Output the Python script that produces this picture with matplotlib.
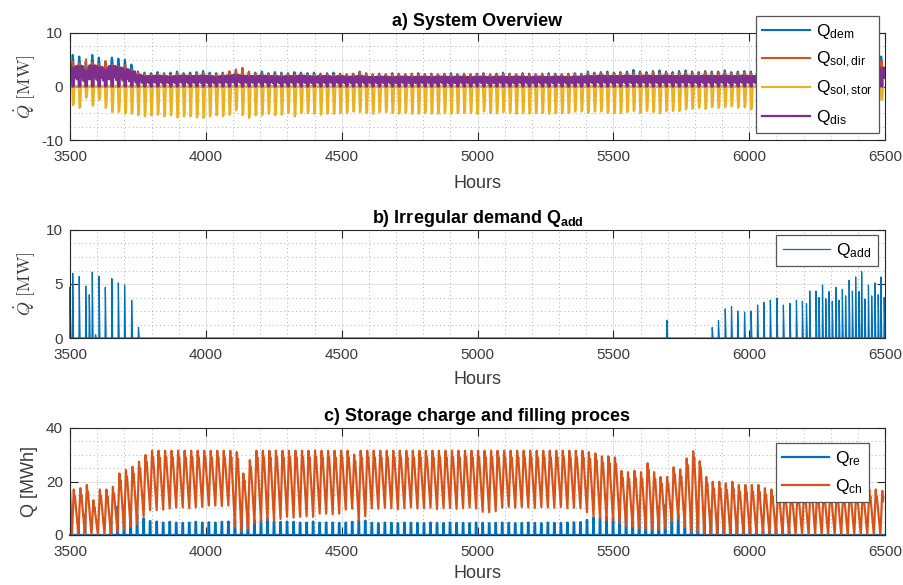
import matplotlib
matplotlib.use("Agg")
import matplotlib.pyplot as plt
from matplotlib.ticker import MultipleLocator

plt.rcParams['font.family'] = ['Liberation Sans', 'DejaVu Sans']
plt.rcParams['mathtext.fontset'] = 'custom'
plt.rcParams['mathtext.rm'] = 'Liberation Sans'
plt.rcParams['mathtext.it'] = 'Liberation Sans:italic'
plt.rcParams['mathtext.bf'] = 'Liberation Sans:bold'
plt.rcParams['axes.unicode_minus'] = False

# ---------------- data ----------------
HOUR_START = 3500
HOUR_END = 6500
N_DAYS = 125

# a) daily peak of demand [MW]
dem_peak = [5.9, 5.6, 4.7, 5.9, 5.4, 4.7, 5.4, 5.2, 5.0, 4.1, 2.8,
            2.6, 2.5, 2.7, 2.5, 2.6, 2.8, 2.5, 2.6, 2.7, 2.9,
            2.6, 2.5, 2.6, 2.8, 3.0, 2.9, 2.7, 2.6, 2.8, 2.5,
            2.7, 2.6, 2.5, 2.7, 2.6, 2.5, 2.6, 2.4, 2.5, 2.6, 2.4,
            2.3, 2.4, 2.8, 2.5, 2.3, 2.4, 2.3, 2.5, 2.4, 2.3,
            2.4, 2.5, 2.3, 2.4, 2.3, 2.4, 2.5, 2.3, 2.4, 2.3,
            2.4, 2.5, 2.3, 2.4, 2.6, 2.4, 2.3, 2.5, 2.4, 2.3,
            2.4, 2.5, 2.4, 2.3, 2.4, 2.5, 2.4, 2.8, 2.6, 2.7, 2.8, 2.6,
            2.7, 2.8, 3.1, 2.8, 2.7, 2.9, 3.0, 2.8, 2.7, 2.9, 3.0,
            2.8, 2.7, 2.9, 2.8, 2.8, 3.0, 2.7, 2.8, 2.9, 2.8, 3.0,
            2.8, 2.7, 2.8, 2.9, 2.8, 2.7, 2.8, 2.9, 2.8, 2.7,
            2.8, 2.9, 2.8, 2.7, 2.8, 2.9, 2.8, 2.7, 5.6]
# a) daily peak of direct solar supply [MW]
sol_dir_peak = [4.7, 4.4, 5.1, 4.4, 4.2, 4.7, 4.0, 3.6, 4.0, 3.1, 2.5,
                2.3, 2.2, 2.4, 2.3, 2.2, 2.4, 2.3, 2.2, 2.4, 2.5, 2.3, 2.2, 2.4,
                2.8, 3.2, 3.5, 2.8,
                2.4, 2.3, 2.4, 2.2, 2.3, 2.4, 2.2, 2.3, 2.2, 2.3, 2.2, 2.3, 2.2, 2.2,
                2.2, 2.3, 2.7, 2.3, 2.2, 2.2, 2.3, 2.2, 2.2, 2.3,
                2.2, 2.2, 2.3, 2.2, 2.2, 2.3, 2.2, 2.2, 2.3, 2.2,
                2.2, 2.3, 2.2, 2.2, 2.4, 2.2, 2.2, 2.3, 2.2, 2.2,
                2.3, 2.2, 2.2, 2.3, 2.2, 2.3, 2.2, 2.5, 2.4, 2.5, 2.5, 2.4,
                2.5, 2.5, 2.6, 2.5, 2.4, 2.6, 2.6, 2.5, 2.4, 2.5, 2.6,
                2.5, 2.4, 2.6, 2.5, 2.5, 2.6, 2.4, 2.5, 2.6, 2.5, 2.6,
                2.5, 2.4, 2.5, 2.6, 2.5, 2.4, 2.5, 2.6, 2.5, 2.4,
                2.5, 2.6, 2.5, 2.4, 2.5, 2.6, 2.5, 2.4, 4.8]
# a) daily depth of solar flow into the storage [MW, shown negative]
sol_stor_depth = [3.5, 4.0, 2.1, 3.6, 2.5, 4.0, 4.8, 4.8, 5.1, 5.1,
                  5.4, 5.6, 5.4, 5.3, 5.6, 5.4, 5.8, 5.6, 5.6, 5.8,
                  5.9, 5.6, 5.4, 5.6, 5.3, 4.5, 5.4, 5.9, 5.4, 5.4,
                  5.1, 5.4, 5.3, 5.0, 5.6, 5.0, 5.0, 5.1, 5.3, 5.1, 5.1, 5.0,
                  5.0, 4.7, 4.8, 5.0, 5.1, 4.8, 4.8, 5.0, 5.1, 5.0,
                  5.1, 5.1, 5.0, 5.1, 5.1, 5.0, 5.1, 5.0, 5.0, 5.0,
                  5.1, 4.7, 5.0, 5.0, 4.8, 5.0, 5.1, 5.0, 5.1, 5.0,
                  5.0, 5.1, 5.0, 5.0, 5.0, 4.7, 4.7, 5.0, 4.7, 4.7, 5.0, 5.0,
                  5.0, 4.8, 4.6, 5.0, 4.6, 4.8, 5.0, 4.6, 4.6, 4.6, 4.3,
                  4.2, 4.0, 4.2, 3.9, 4.0, 3.9, 3.7, 4.0, 3.9, 4.3, 4.0,
                  3.5, 3.6, 3.4, 3.5, 3.6, 3.5, 3.4, 3.5, 3.6, 3.5,
                  3.4, 3.5, 3.6, 3.5, 3.4, 3.5, 3.6, 3.5, 2.5]
# a) storage discharge level [MW]
dis_level = [3.5, 3.8, 3.0, 3.9, 3.6, 3.2, 3.8, 3.5, 3.2, 2.8, 2.1,
             1.9, 1.9, 2.0, 1.9, 1.8, 1.9, 2.0, 1.9, 1.9, 2.0,
             1.9, 1.8, 1.9, 2.0, 2.1, 2.0, 1.9, 1.9, 2.0, 1.9,
             1.9, 1.8, 1.9, 1.9, 2.0, 1.9, 1.8, 1.9, 1.9, 1.8, 1.9,
             1.8, 1.8, 1.9, 1.8, 1.7, 1.8, 1.8, 1.7, 1.8, 1.8,
             1.7, 1.8, 1.8, 1.7, 1.8, 1.8, 1.7, 1.8, 1.8, 1.7,
             1.8, 1.8, 1.7, 1.8, 1.8, 1.7, 1.8, 1.8, 1.7, 1.8,
             1.8, 1.7, 1.8, 1.8, 1.7, 1.8, 1.8, 1.9, 1.9, 2.0, 1.9, 1.9,
             1.9, 2.0, 1.9, 1.9, 2.0, 1.9, 1.9, 2.0, 1.9, 1.9, 2.0,
             1.9, 1.9, 2.0, 1.9, 1.9, 2.0, 1.9, 1.9, 2.0, 1.9, 1.9,
             1.9, 2.0, 1.9, 1.9, 2.0, 1.9, 1.9, 2.0, 1.9, 1.9,
             2.0, 1.9, 1.9, 2.0, 1.9, 1.9, 2.0, 1.9, 3.5]
# a) hourly shape of one day of discharge (fraction of the daily level)
dis_day_hours = [0, 2, 4, 7, 9, 14, 16, 19, 21, 23]
dis_day_frac = [1.0, 0.35, 1.0, 1.0, 0.0, 0.0, 1.0, 1.0, 0.45, 1.0]

# b) irregular demand spikes
add_hours = [3500, 3510, 3534, 3558, 3571, 3582, 3594, 3607, 3630, 3654, 3678, 3701, 3727, 3752,
             5697,
             5864, 5887, 5912, 5935, 5958, 5983, 6007, 6031, 6054, 6078,
             6102, 6126, 6150, 6174, 6196, 6211, 6223, 6246, 6257, 6270,
             6282, 6294, 6306, 6319, 6331, 6343, 6355, 6368, 6380, 6392,
             6404, 6414, 6426, 6439, 6451, 6463, 6475, 6485, 6497]
add_values = [4.7, 6.0, 5.7, 4.8, 4.0, 6.1, 0.3, 5.7, 4.7, 5.5, 5.1, 4.9, 3.5, 1.0,
              1.65,
              0.97, 1.6, 2.7, 2.9, 2.5, 2.4, 2.5, 3.05, 3.3, 3.5,
              3.7, 3.05, 3.2, 3.5, 3.4, 3.2, 4.35, 4.35, 3.75, 4.9,
              3.65, 4.3, 3.4, 4.7, 3.5, 4.5, 3.9, 5.35, 4.35, 5.65,
              4.3, 6.15, 3.6, 4.9, 3.9, 5.1, 4.0, 5.65, 3.75]

# c) storage charge: daily maximum and minimum [MWh]
ch_start = 16.8
ch_max = [17.0, 17.5, 18.7, 13.0, 17.0, 17.0, 18.0,
          23.0, 24.3, 25.5, 27.4, 29.9,
          31.5, 31.5, 31.5, 31.5, 31.5, 31.5, 31.5, 31.5, 31.5, 31.5, 31.5, 31.5, 31.5,
          31.0, 23.0, 28.0,
          31.5, 31.5, 31.5, 31.5, 31.5, 31.5, 31.5, 31.5, 31.5, 31.5, 31.5, 31.5, 31.5, 31.5, 31.5,
          30.0,
          31.5, 31.5, 31.5, 31.5, 31.5, 31.5, 31.5, 31.5, 31.5, 31.5,
          31.5, 31.5, 31.5, 31.5, 31.5, 31.5, 31.5, 31.5, 31.5, 31.5,
          31.5, 31.5, 31.5, 31.5, 31.5, 31.5, 31.5, 31.5, 31.5, 31.5,
          31.5, 31.5, 31.5, 31.5, 31.5,
          31.0, 30.5, 29.4, 29.4,
          29.0, 24.0, 23.5, 24.0, 23.5, 26.8, 23.5, 21.7, 21.7, 25.3, 24.5, 28.6,
          31.3, 27.6, 21.7, 19.9, 19.9, 19.3, 19.9, 18.7, 18.7, 18.7, 18.7,
          17.5, 17.0, 17.5, 17.0, 16.5, 17.0, 17.5,
          19.9,
          17.0, 16.5, 17.0, 17.0, 16.5, 17.0, 17.0, 16.5, 17.0, 17.0, 16.5]
ch_min = [0.0, 0.0, 0.0, 0.0, 0.0, 0.0, 0.0,
          1.0, 2.0, 3.0, 4.0, 7.0,
          9.3, 9.3, 9.5, 9.9, 10.3, 10.3, 10.0, 10.3, 10.5,
          11.0, 11.0, 10.8, 11.0,
          3.0,
          1.2, 2.5, 4.4,
          5.0, 5.5, 5.2, 6.0,
          6.8, 6.5, 6.8, 7.0, 6.8,
          8.0, 8.0, 7.8, 8.0,
          9.5, 9.8,
          5.5, 7.0,
          10.0, 9.8, 10.2, 10.0, 9.6, 10.0, 10.3, 9.9, 10.0, 10.2, 9.7, 10.0, 10.1, 9.8, 10.0, 10.3, 9.9,
          8.7, 8.5, 8.9,
          10.3, 10.5, 10.2, 10.4, 10.3, 10.1, 10.4, 10.3, 10.2, 10.5, 10.0, 10.2, 10.0,
          8.5, 7.0, 6.2, 5.6,
          5.5, 4.5, 3.5, 3.0, 2.5, 2.0, 2.0, 2.0, 2.5, 5.0, 6.0, 3.0, 1.0, 1.0, 0.5,
          0.0, 0.0, 0.0, 0.0, 0.0, 0.0, 0.0, 0.0, 0.0, 0.0,
          0.0, 0.0, 0.0, 0.0, 0.0, 0.0, 0.0, 0.0, 0.0, 0.0,
          0.0, 0.0, 0.0, 0.0, 0.0, 0.0, 0.0]
# c) daily refill peak [MWh]
re_peak = [0.0, 3.7, 7.5, 0.0, 0.0, 0.0, 5.2, 10.6, 11.0, 9.5, 7.7, 6.2, 5.2,
           5.0, 4.6, 4.9, 4.6, 4.5, 4.6, 4.9, 4.6, 4.7, 4.6, 4.9, 5.0,
           5.7, 10.6, 8.0, 5.6, 5.6, 6.2,
           5.0, 4.9, 5.0, 4.9, 4.6, 4.6, 5.0, 4.6, 4.6, 4.6, 4.5, 4.6, 4.9,
           5.6, 5.3,
           4.5, 4.4, 4.6, 4.5, 4.4, 4.6, 4.5, 4.5, 4.4, 4.6, 4.5,
           4.4, 4.6, 4.5, 4.5, 4.4, 4.6, 4.5, 4.4, 4.5, 4.6, 4.5,
           4.4, 4.5, 4.6, 4.5, 4.4, 4.6, 4.5, 4.5, 4.6, 4.7, 4.8,
           5.6, 6.5, 6.5, 6.8, 6.5,
           7.8, 9.0, 9.0, 8.5, 7.8, 9.0, 10.5, 11.1, 9.8, 7.8, 5.6, 8.5, 11.5, 9.8,
           9.0, 7.8, 7.0, 5.6, 6.2, 3.7, 3.2, 2.5, 1.5, 1.5, 2.5, 2.5, 1.5,
           0.0, 0.0, 0.0, 0.0, 0.0, 0.0, 0.0, 0.0, 0.0, 0.0, 0.0, 0.0, 0.0, 0.0]

# ---------------- style ----------------
C_BLUE = '#0072BD'
C_RED = '#D95319'
C_YEL = '#EDB120'
C_PUR = '#7E2F8E'
AX_COL = '#262626'
TXT_COL = '#3a3a3a'

# ---------------- build hourly line knots ----------------
def day_t0(d):
    return HOUR_START + 24 * d

x_dem, y_dem, x_sd, y_sd, x_ss, y_ss, x_dis, y_dis = [], [], [], [], [], [], [], []
for d in range(N_DAYS):
    t0 = day_t0(d)
    x_dem += [t0, t0 + 7, t0 + 10, t0 + 14]
    y_dem += [dis_level[d], dis_level[d], dem_peak[d], dis_level[d]]
    x_sd += [t0 + 8, t0 + 11, t0 + 15]
    y_sd += [0.0, sol_dir_peak[d], 0.0]
    x_ss += [t0 + 8, t0 + 11, t0 + 14, t0 + 17]
    y_ss += [0.0, -sol_stor_depth[d], -0.93 * sol_stor_depth[d], 0.0]
    x_dis += [t0 + h for h in dis_day_hours]
    y_dis += [f * dis_level[d] for f in dis_day_frac]

x_add, y_add = [HOUR_START], [0.0]
for h, v in zip(add_hours, add_values):
    x_add += [h - 1, h, h + 3]
    y_add += [0.0, v, 0.0]
x_add.append(HOUR_END)
y_add.append(0.0)

x_ch, y_ch = [HOUR_START], [ch_start]
x_re, y_re = [HOUR_START], [0.0]
for d in range(N_DAYS):
    t0 = day_t0(d)
    x_ch += [t0 + 7, t0 + 14, t0 + 16, t0 + 18]
    y_ch += [ch_min[d], ch_max[d], ch_max[d] - 4.0, ch_max[d] - 2.5]
    x_re += [t0 + 5, t0 + 6, t0 + 8, t0 + 9]
    y_re += [0.0, re_peak[d], re_peak[d], 0.0]
x_re.append(HOUR_END)
y_re.append(0.0)

# ---------------- figure ----------------
fig = plt.figure(figsize=(9.04, 5.85), dpi=100)
W, H = 904.0, 585.0
def add_axes(top, bottom, left=70, right=885):
    return fig.add_axes([left / W, 1 - bottom / H, (right - left) / W, (bottom - top) / H])

ax1 = add_axes(33, 140)
ax2 = add_axes(230, 338)
ax3 = add_axes(428, 535)

def style(ax, ylim, ymajor, yminor, xlabelpad):
    ax.set_xlim(HOUR_START, HOUR_END)
    ax.set_ylim(*ylim)
    ax.xaxis.set_major_locator(MultipleLocator(500))
    ax.xaxis.set_minor_locator(MultipleLocator(100))
    ax.yaxis.set_major_locator(MultipleLocator(ymajor))
    ax.yaxis.set_minor_locator(MultipleLocator(yminor))
    ax.grid(which='major', color=AX_COL, alpha=0.13, lw=0.7, ls='-')
    ax.grid(which='minor', color=AX_COL, alpha=0.35, lw=0.7, ls=(0, (1, 3)))
    ax.set_axisbelow(True)
    ax.tick_params(which='major', direction='in', length=5.5, width=0.8, top=True, right=True,
                   labelsize=11, labelcolor=TXT_COL, color=AX_COL, pad=5)
    ax.tick_params(which='minor', length=0, top=True, right=True)
    ax.tick_params(axis='x', pad=7)
    for s in ax.spines.values():
        s.set_color(AX_COL)
        s.set_linewidth(0.8)
    ax.set_xlabel('Hours', fontsize=13, color=TXT_COL, labelpad=xlabelpad)

LEG_KW = dict(loc='upper right', bbox_transform=fig.transFigure, fontsize=12.5,
              handlelength=2.75, handletextpad=0.35, labelspacing=0.5,
              borderpad=0.35, borderaxespad=0, framealpha=1, fancybox=False, edgecolor='#555555')

# a)
l1, = ax1.plot(x_dem, y_dem, color=C_BLUE, lw=1.5)
l2, = ax1.plot(x_sd, y_sd, color=C_RED, lw=1.5)
l3, = ax1.plot(x_ss, y_ss, color=C_YEL, lw=1.5)
l4, = ax1.plot(x_dis, y_dis, color=C_PUR, lw=1.6)
style(ax1, (-10, 10), 10, 2.5, 8.0)
ax1.set_title('a) System Overview', fontsize=13, fontweight='bold', pad=5)
ax1.set_ylabel(r'$\dot{Q}\ \mathrm{[MW]}$', fontsize=13, color=TXT_COL, math_fontfamily='cm')
ax1.yaxis.set_label_coords(-0.041, 0.5)
leg1 = ax1.legend([l1, l2, l3, l4],
                  [r'Q$_{\mathrm{dem}}$', r'Q$_{\mathrm{sol,dir}}$', r'Q$_{\mathrm{sol,stor}}$', r'Q$_{\mathrm{dis}}$'],
                  bbox_to_anchor=(879 / W, 1 - 16 / H), **LEG_KW)
leg1.get_frame().set_linewidth(0.9)

# b)
ax2.plot(x_add, y_add, color=C_BLUE, lw=0.9, clip_on=False)
style(ax2, (0, 10), 5, 1.25, 7.0)
ax2.set_title(r'b) Irregular demand Q$_{\mathbf{add}}$', fontsize=13, fontweight='bold', pad=5)
ax2.set_ylabel(r'$\dot{Q}\ \mathrm{[MW]}$', fontsize=13, color=TXT_COL, math_fontfamily='cm')
ax2.yaxis.set_label_coords(-0.041, 0.5)
leg2 = ax2.legend([r'Q$_{\mathrm{add}}$'], bbox_to_anchor=(877.7 / W, 1 - 235 / H), **LEG_KW)
leg2.get_frame().set_linewidth(0.9)

# c)
l5, = ax3.plot(x_re, y_re, color=C_BLUE, lw=1.6, clip_on=False)
l6, = ax3.plot(x_ch, y_ch, color=C_RED, lw=1.6)
style(ax3, (0, 40), 20, 5, 4.5)
ax3.set_title('c) Storage charge and filling proces', fontsize=13, fontweight='bold', pad=5)
ax3.set_ylabel('Q [MWh]', fontsize=13, color=TXT_COL)
ax3.yaxis.set_label_coords(-0.039, 0.5)
leg3 = ax3.legend([l5, l6], [r'Q$_{\mathrm{re}}$', r'Q$_{\mathrm{ch}}$'],
                  bbox_to_anchor=(869.3 / W, 1 - 443 / H), **LEG_KW)
leg3.get_frame().set_linewidth(0.9)

fig.savefig('out.png', dpi=100)
